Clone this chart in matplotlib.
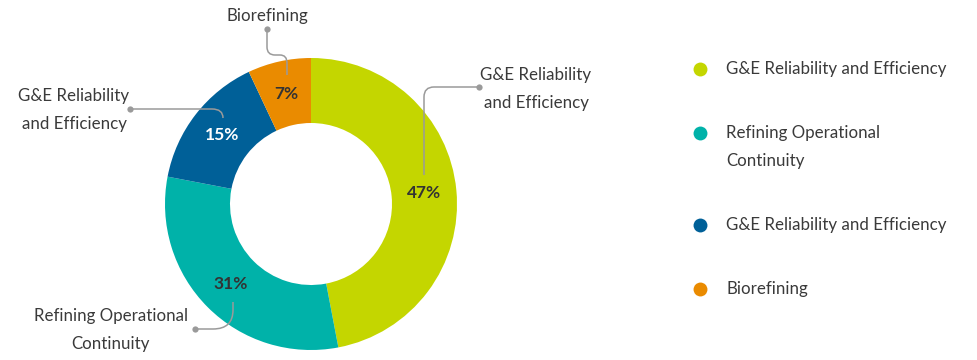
import matplotlib.pyplot as plt
import numpy as np
from matplotlib.path import Path
import matplotlib.patches as patches

# data
categories = ['G&E Reliability and Efficiency', 'Refining Operational Continuity',
              'G&E Reliability and Efficiency', 'Biorefining']
values = [47, 31, 15, 7]
colors = ['#c4d600', '#00b2a9', '#006098', '#ea8b00']
pct_colors = ['#333333', '#333333', '#ffffff', '#333333']
legend_labels = ['G&E Reliability and Efficiency', 'Refining Operational\nContinuity',
                 'G&E Reliability and Efficiency', 'Biorefining']

plt.rcParams['font.family'] = ['Lato', 'DejaVu Sans']
TXT = '#3a3a3a'
GRAY = '#9a9a9a'

W, H = 978, 360
fig = plt.figure(figsize=(W / 100, H / 100), dpi=100)
ax = fig.add_axes([0, 0, 1, 1])


def Y(y):
  # pixel row -> data y
  return H - y


cx, cy, R = 311, Y(204), 146
wedges, texts, autotexts = ax.pie(values, colors=colors, startangle=90, counterclock=False,
                                  radius=R, center=(cx, cy), autopct='%.0f%%', pctdistance=0.775,
                                  wedgeprops=dict(width=65, linewidth=0))
for t, c in zip(autotexts, pct_colors):
  t.set_color(c)
  t.set_fontsize(12.5)
  t.set_fontweight('bold')

ax.set_xlim(0, W)
ax.set_ylim(0, H)
ax.set_aspect('equal')
ax.axis('off')


# leader lines (pixel coords of the layout)
def leader(pts, codes):
  verts = [(x, Y(y)) for x, y in pts]
  ax.add_patch(patches.PathPatch(Path(verts, codes), fill=False, edgecolor=GRAY, lw=1.1))
  ax.plot(verts[0][0], verts[0][1], 'o', color=GRAY, ms=4.5, mec='none')


M, L, Q = Path.MOVETO, Path.LINETO, Path.CURVE3
# Biorefining
leader([(267, 29), (267, 47), (267, 55), (275, 55), (280, 55), (287, 55), (287, 63), (287, 75)],
       [M, L, Q, Q, L, Q, Q, L])
# left G&E
leader([(130, 109), (212, 109), (223, 109), (223, 118)], [M, L, Q, Q])
# Refining
leader([(195, 329), (213, 329), (233, 329), (233, 310), (233, 302)], [M, L, Q, Q, L])
# right G&E
leader([(479, 87), (434, 87), (424, 87), (424, 97), (424, 175)], [M, L, Q, Q, L])

fs = 12.2
ls = 1.95
ax.text(267, Y(16), 'Biorefining', ha='center', va='center', fontsize=fs, color=TXT)
ax.text(74, Y(110), 'G&E Reliability\nand Efficiency', ha='center', va='center', fontsize=fs,
        color=TXT, linespacing=ls)
ax.text(536, Y(89), 'G&E Reliability\nand Efficiency', ha='center', va='center', fontsize=fs,
        color=TXT, linespacing=ls)
ax.text(111, Y(330), 'Refining Operational\nContinuity', ha='center', va='center', fontsize=fs,
        color=TXT, linespacing=ls)

# legend
leg_y = [69, 147, 225, 289]
for yy, lab, c in zip(leg_y, legend_labels, colors):
  ax.plot(700, Y(yy) if '\n' not in lab else Y(133), 'o', color=c, ms=10, mec='none')
  ax.text(726, Y(yy), lab, ha='left', va='center', fontsize=fs, color=TXT, linespacing=ls)

fig.savefig('out.png', dpi=100)
